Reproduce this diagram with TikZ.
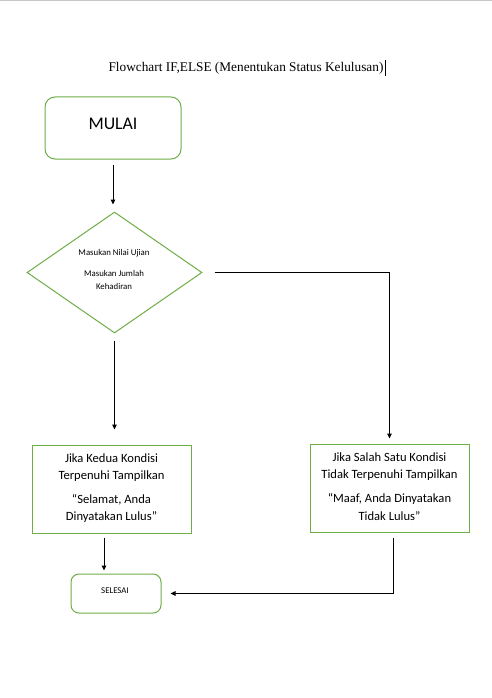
\documentclass[tikz,border=0pt]{standalone}
\usepackage{fontspec}
\setmainfont{Liberation Serif}
\newfontfamily\calfnt{Carlito}
\usetikzlibrary{shapes.geometric,arrows.meta}
\definecolor{grn}{HTML}{70AD47}
\tikzset{
  box/.style={draw=grn, line width=1pt, inner sep=0pt},
  rbox/.style={box, rounded corners=10pt},
  txt/.style={inner sep=0pt, font=\calfnt\fontsize{12.6}{14}\selectfont},
  dtxt/.style={inner sep=0pt, font=\calfnt\fontsize{8.8}{10}\selectfont},
  conn/.style={draw=black, line width=1pt, -{Triangle[length=5pt,width=4.5pt]}}
}
\begin{document}
\begin{tikzpicture}[x=1pt,y=-1pt]
\useasboundingbox (0,0) rectangle (492,698);
\fill[white] (0,0) rectangle (492,698);
\draw[black!22, line width=1.5pt] (0,0.75) -- (492,0.75);
\node[inner sep=0pt, font=\fontsize{13.3}{15}\selectfont] (title) at (246,68) {Flowchart IF,ELSE (Menentukan Status Kelulusan)};
\coordinate (curtop) at (385,60);
\coordinate (curbot) at (385,76);
\draw[black, line width=0.8pt] (curtop) -- (curbot);
% MULAI
\node[rbox, minimum width=136pt, minimum height=62pt] (mulai) at (113,128) {};
\node[inner sep=0pt, font=\calfnt\fontsize{17.8}{20}\selectfont] (mulaitxt) at (113,124) {MULAI};
% diamond
\node[diamond, box, minimum width=175pt, minimum height=121pt] (dia) at (114.5,272.5) {};
\node[dtxt] (d1) at (114,253) {Masukan Nilai Ujian};
\node[dtxt] (d2) at (114,273) {Masukan Jumlah};
\node[dtxt] (d3) at (114,286) {Kehadiran};
% left box
\node[box, minimum width=159pt, minimum height=88pt] (lbox) at (111.5,489) {};
\node[txt] (l1) at (111.5,458) {Jika Kedua Kondisi};
\node[txt] (l2) at (111.5,476) {Terpenuhi Tampilkan};
\node[txt] (l3) at (111.5,500) {“Selamat, Anda};
\node[txt] (l4) at (111.5,517) {Dinyatakan Lulus”};
% right box
\node[box, minimum width=159pt, minimum height=88pt] (rbx) at (389.5,488) {};
\node[txt] (r1) at (389.5,457) {Jika Salah Satu Kondisi};
\node[txt] (r2) at (389.5,475) {Tidak Terpenuhi Tampilkan};
\node[txt] (r3) at (389.5,499) {“Maaf, Anda Dinyatakan};
\node[txt] (r4) at (389.5,516) {Tidak Lulus”};
% selesai
\node[box, rounded corners=8pt, minimum width=90pt, minimum height=39pt] (sel) at (116,593.5) {};
\node[inner sep=0pt, font=\calfnt\fontsize{8.8}{10}\selectfont] (seltxt) at (115,591) {SELESAI};
% connectors
\draw[conn, shorten <=5pt, shorten >=7pt] (mulai.south) -- (mulai.south |- dia.north);
\draw[conn, shorten <=12pt, shorten >=5pt] (dia.east) -| (rbx.north);
\draw[conn, shorten <=7pt, shorten >=15pt] (dia.south) -- (dia.south |- lbox.north);
\draw[conn, shorten <=4pt, shorten >=3pt] ([xshift=-7.5pt]lbox.south) -- ([xshift=-7.5pt]lbox.south |- sel.north);
\draw[conn, shorten <=5pt, shorten >=9pt] ([xshift=3.5pt]rbx.south) |- (sel.east);
\end{tikzpicture}
\end{document}
